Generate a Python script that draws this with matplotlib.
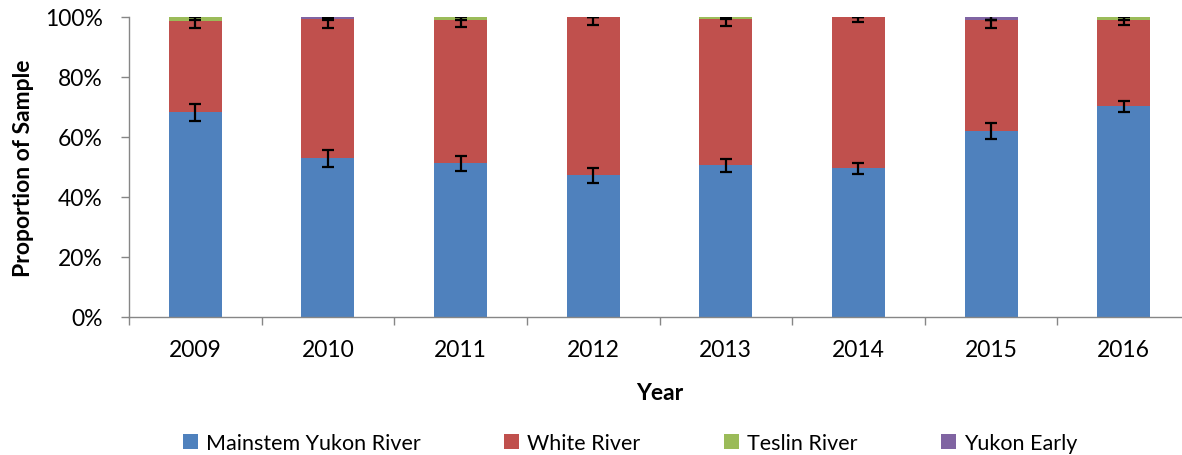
import matplotlib.pyplot as plt
import numpy as np
from matplotlib.patches import Patch

plt.rcParams['font.family'] = ['Lato', 'DejaVu Sans']

years = ['2009', '2010', '2011', '2012', '2013', '2014', '2015', '2016']
mainstem = [68.2, 52.9, 51.2, 47.2, 50.6, 49.6, 61.9, 70.2]
white = [30.6, 46.3, 47.9, 52.8, 48.6, 50.4, 37.1, 28.9]
teslin = [1.2, 0.1, 0.9, 0.0, 0.8, 0.0, 0.0, 0.9]
yukon_early = [0.0, 0.7, 0.0, 0.0, 0.0, 0.0, 1.0, 0.0]

mainstem_err = [2.8, 2.9, 2.5, 2.6, 2.1, 1.9, 2.7, 1.9]
white_err = [2.6, 2.9, 2.4, 2.7, 2.2, 1.8, 2.8, 1.9]
teslin_err = [1.1, 0.3, 0.9, 0.0, 0.8, 0.0, 0.0, 0.9]
yukon_early_err = [0.0, 0.7, 0.0, 0.0, 0.0, 0.0, 0.9, 0.0]

names = ['Mainstem Yukon River', 'White River', 'Teslin River', 'Yukon Early']
colors = ['#4F81BD', '#C0504D', '#9BBB59', '#8064A2']
series = [mainstem, white, teslin, yukon_early]
errs = [mainstem_err, white_err, teslin_err, yukon_early_err]

fs = 16.5
fig = plt.figure(figsize=(11.82, 4.56), dpi=100)
ax = fig.add_axes([129 / 1182, (456 - 318) / 456, 1061 / 1182, 300 / 456])

x = np.arange(len(years))
bottom = np.zeros(len(years))
for vals, c in zip(series, colors):
    ax.bar(x, vals, 0.4, bottom=bottom, color=c, linewidth=0)
    bottom = bottom + np.array(vals)

top = np.zeros(len(years))
for vals, e in zip(series, errs):
    top = top + np.array(vals)
    ax.errorbar(x, top, yerr=e, fmt='none', ecolor='black', elinewidth=1.6,
                capsize=4.5, capthick=1.6, zorder=5)

ax.set_xlim(-0.5, len(years) - 0.5)
ax.set_ylim(0, 100)
ax.set_yticks(np.arange(0, 101, 20))
ax.set_yticklabels([f'{v}%' for v in range(0, 101, 20)])
ax.set_xticks(x)
ax.set_xticklabels(years)
ax.set_xticks(np.arange(-0.5, len(years), 1), minor=True)
ax.tick_params(axis='x', which='major', length=0, labelsize=fs, pad=16)
ax.tick_params(axis='x', which='minor', length=6, color='#868686', width=1)
ax.tick_params(axis='y', length=6, color='#868686', width=1, labelsize=fs, pad=13)

for s in ['top', 'right']:
    ax.spines[s].set_visible(False)
for s in ['left', 'bottom']:
    ax.spines[s].set_color('#868686')
    ax.spines[s].set_linewidth(1)

ax.set_ylabel('Proportion of Sample', fontsize=fs, fontweight='bold', labelpad=8)
ax.set_xlabel('Year', fontsize=fs, fontweight='bold', labelpad=16)

handles = [Patch(facecolor=c, edgecolor='none') for c in colors]
fig.legend(handles, names, loc='center', bbox_to_anchor=(630 / 1182, 1 - 444 / 456),
           ncol=4, frameon=False, fontsize=15.5, handlelength=0.7, handleheight=0.7,
           handletextpad=0.35, columnspacing=3.9)

fig.savefig('out.png', dpi=100)
